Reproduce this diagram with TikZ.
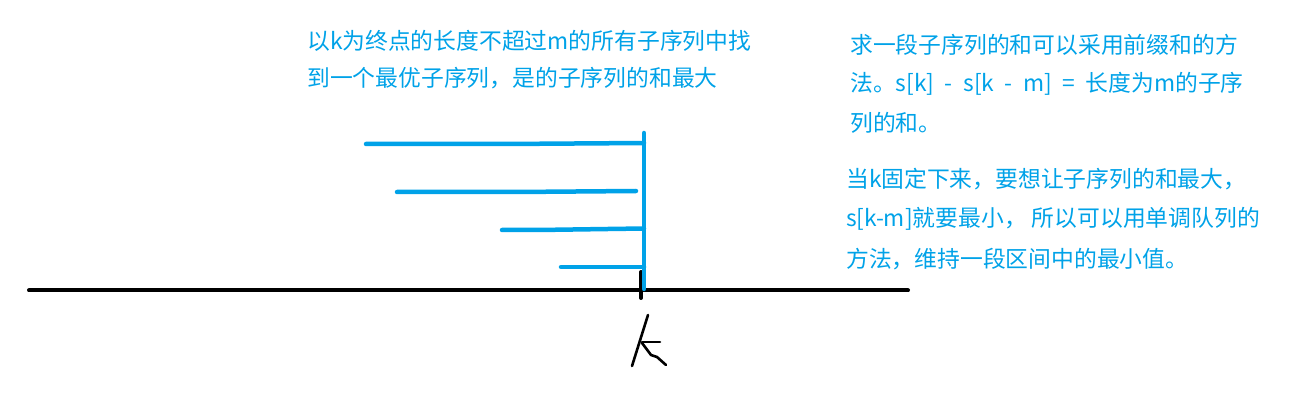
\documentclass[tikz,border=0pt]{standalone}
\usepackage{fontspec}
\newfontfamily\cjk{Noto Sans CJK SC}
\definecolor{pblue}{HTML}{00A2E8}
\newcommand{\wsp}{\hspace{10.5pt}}
\tikzset{
  txt/.style={anchor=west, inner sep=0pt, text=pblue, font=\cjk\fontsize{22.8pt}{27pt}\selectfont},
  bline/.style={draw=pblue, line width=4.5pt, line cap=round},
  kline/.style={draw=black, line width=4pt, line cap=round},
  pen/.style={draw=black, line width=2.6pt, line cap=round, line join=round}
}
\begin{document}
\begin{tikzpicture}[x=1pt, y=-1pt]
\useasboundingbox (0,0) rectangle (1302,406);
% texts
\node[txt] (a1) at (307,41) {以k为终点的长度不超过m的所有子序列中找};
\node[txt] (a2) at (307,78) {到一个最优子序列，是的子序列的和最大};
\node[txt] (b1) at (850,45) {求一段子序列的和可以采用前缀和的方};
\node[txt] (b2) at (850,84) {法。s[k]\wsp-\wsp s[k\wsp-\wsp m]\wsp=\wsp 长度为m的子序};
\node[txt] (b3) at (850,123) {列的和。};
\node[txt] (c1) at (846,179) {当k固定下来，要想让子序列的和最大，};
\node[txt] (c2) at (846,219) {s[k-m]就要最小， 所以可以用单调队列的};
\node[txt] (c3) at (846,259) {方法，维持一段区间中的最小值。};
% axis
\coordinate (ax0) at (29,290.5);
\coordinate (ax1) at (908,290.5);
\draw[kline] (ax0) -- (ax1);
\coordinate (tk0) at (641,272);
\coordinate (tk1) at (641,298);
\draw[kline] (tk0) -- (tk1);
% blue segments
\coordinate (v0) at (644,133);
\coordinate (v1) at (644,289);
\draw[bline] (v0) -- (v1);
\draw[bline] (366,144) -- (505,144) -- (644,143);
\draw[bline] (397,192) -- (516,192) -- (636,191);
\draw[bline] (502,230) -- (538,230) -- (608,229) -- (644,228.5);
\draw[bline] (561,267) -- (644,267);
% handwritten k
\draw[pen] (632,366) -- (648,315);
\draw[pen] (642,342) -- (660,342);
\draw[pen] (642,343) -- (651,355) -- (657,357) -- (666,365);
\end{tikzpicture}
\end{document}
